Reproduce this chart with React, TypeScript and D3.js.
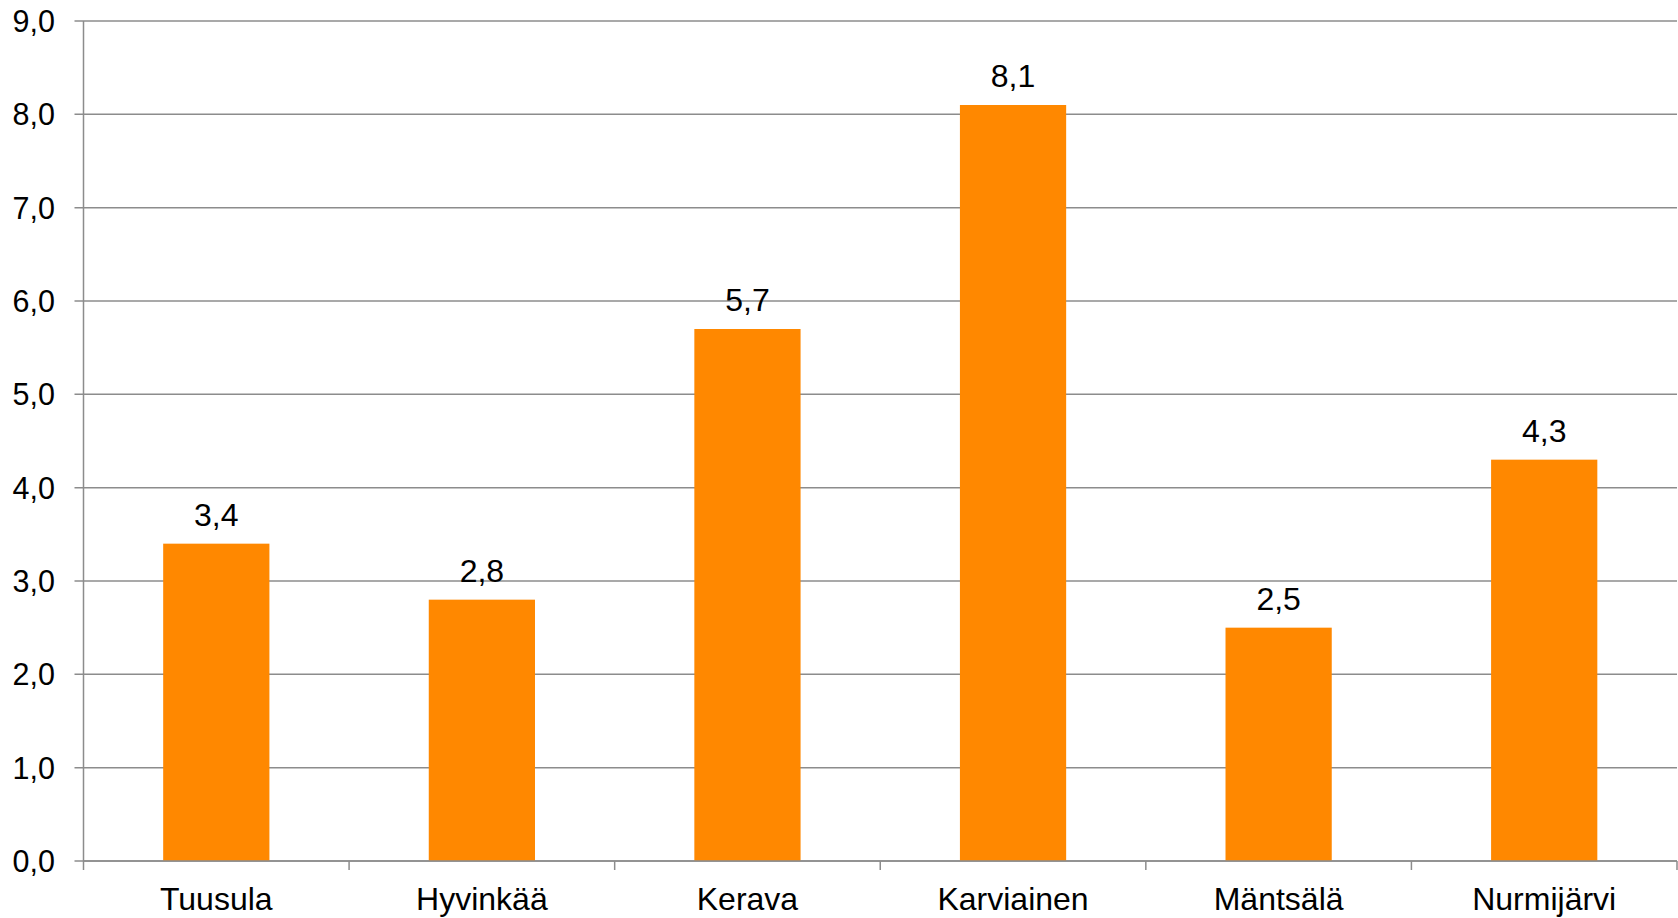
import React, { useEffect, useRef } from 'react';
import * as d3 from 'd3';

const municipalities = ['Tuusula', 'Hyvinkää', 'Kerava', 'Karviainen', 'Mäntsälä', 'Nurmijärvi'];
const values = [3.4, 2.8, 5.7, 8.1, 2.5, 4.3];
const yTicks = [0, 1, 2, 3, 4, 5, 6, 7, 8, 9];

const WIDTH = 1678;
const HEIGHT = 918;

export default function App() {
  const ref = useRef<SVGSVGElement>(null);

  useEffect(() => {
    const svg = d3.select(ref.current);
    svg.selectAll('*').remove();

    const margin = { top: 21, right: 1, bottom: 57, left: 83.5 };
    const width = WIDTH - margin.left - margin.right;
    const height = HEIGHT - margin.top - margin.bottom;
    const font = 'Liberation Sans, Arial, sans-serif';
    const fontSize = '32px ';
    const gridColor = '#8c8c8c';

    const g = svg.append('g').attr('transform', 'translate(' + margin.left + ',' + margin.top + ')');

    const x = d3.scaleBand<string>().domain(municipalities).range([0, width]).paddingInner(0.6).paddingOuter(0.3);
    const y = d3.scaleLinear().domain([0, 9]).range([height, 0]);
    const step = x.step();

    // gridlines + left ticks
    g.selectAll('.grid')
      .data(yTicks)
      .enter().append('line')
      .attr('x1', -9)
      .attr('x2', width)
      .attr('y1', d => y(d))
      .attr('y2', d => y(d))
      .attr('stroke', gridColor)
      .attr('stroke-width', 1.5);

    g.selectAll('.ylab')
      .data(yTicks)
      .enter().append('text')
      .attr('x', -28.5)
      .attr('y', d => y(d))
      .attr('dy', '0.36em')
      .attr('text-anchor', 'end')
      .style('font', '30.5px ' + font)
      .attr('fill', '#000')
      .text(d => d3.format('.1f')(d).replace('.', ','));

    // bars
    g.selectAll('.bar')
      .data(values)
      .enter().append('rect')
      .attr('x', (d, i) => x(municipalities[i]) as number)
      .attr('width', x.bandwidth())
      .attr('y', d => y(d))
      .attr('height', d => height - y(d))
      .attr('fill', '#ff8800');

    g.selectAll('.val')
      .data(values)
      .enter().append('text')
      .attr('x', (d, i) => (x(municipalities[i]) as number) + x.bandwidth() / 2)
      .attr('y', d => y(d) - 18)
      .attr('text-anchor', 'middle')
      .style('font', fontSize + font)
      .attr('fill', '#000')
      .text(d => d3.format('.1f')(d).replace('.', ','));

    // axes lines
    g.append('line')
      .attr('x1', 0).attr('x2', 0)
      .attr('y1', 0).attr('y2', height)
      .attr('stroke', gridColor).attr('stroke-width', 1.5);

    g.append('line')
      .attr('x1', 0).attr('x2', width)
      .attr('y1', height).attr('y2', height)
      .attr('stroke', gridColor).attr('stroke-width', 1.5);

    // category boundary ticks
    g.selectAll('.xtick')
      .data(d3.range(municipalities.length + 1))
      .enter().append('line')
      .attr('x1', d => d * step)
      .attr('x2', d => d * step)
      .attr('y1', height)
      .attr('y2', height + 9)
      .attr('stroke', gridColor)
      .attr('stroke-width', 1.5);

    g.selectAll('.xlab')
      .data(municipalities)
      .enter().append('text')
      .attr('x', d => (x(d) as number) + x.bandwidth() / 2)
      .attr('y', height + 49)
      .attr('text-anchor', 'middle')
      .style('font', fontSize + font)
      .attr('fill', '#000')
      .text(d => d);
  }, []);

  return (
    <svg
      ref={ref}
      width={WIDTH}
      height={HEIGHT}
      style={{ position: 'absolute', left: 0, top: 0, background: '#fff' }}
    />
  );
}
